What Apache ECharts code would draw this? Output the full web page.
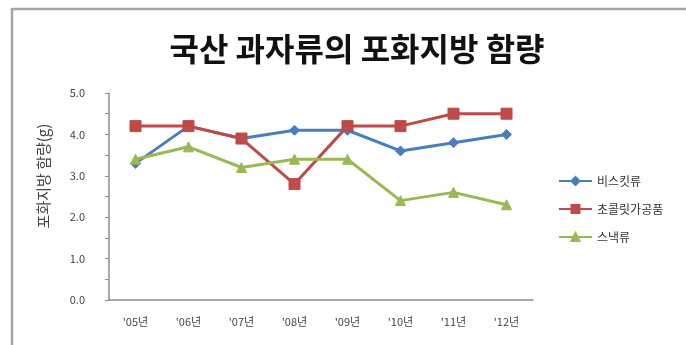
<!DOCTYPE html>
<html>
<head>
<meta charset="utf-8">
<script src="https://cdn.jsdelivr.net/npm/echarts@6/dist/echarts.min.js"></script>
<style>
  html, body { margin: 0; padding: 0; background: #fff; }
  #chart { width: 686px; height: 345px; }
</style>
</head>
<body>
<div id="chart"></div>
<script>
// Years on the category axis
const years = ["'05년", "'06년", "'07년", "'08년", "'09년", "'10년", "'11년", "'12년"];
// Saturated fat content (g) per product group
const biscuits = [3.3, 4.2, 3.9, 4.1, 4.1, 3.6, 3.8, 4.0];
const chocolate = [4.2, 4.2, 3.9, 2.8, 4.2, 4.2, 4.5, 4.5];
const snacks = [3.4, 3.7, 3.2, 3.4, 3.4, 2.4, 2.6, 2.3];
const seriesNames = ['비스킷류', '초콜릿가공품', '스낵류'];
const yAxisTitle = '포화지방 함량(g)';

const FONT = '"Noto Sans CJK KR", "Noto Sans", sans-serif';
const chart = echarts.init(document.getElementById('chart'));

function lineSeries(name, data, color, symbol, size) {
  return {
    name: name,
    type: 'line',
    data: data,
    symbol: symbol,
    symbolSize: size,
    showSymbol: true,
    lineStyle: { color: color, width: 3 },
    itemStyle: { color: color, borderColor: color, borderWidth: 1 },
    emphasis: { disabled: true }
  };
}

chart.setOption({
  animation: false,
  backgroundColor: '#ffffff',
  textStyle: { fontFamily: FONT },
  graphic: [
    {
      // frame around the chart area
      type: 'rect',
      shape: { x: 12, y: 9, width: 720, height: 400 },
      style: { fill: 'none', stroke: '#a6a6a6', lineWidth: 2.5 }
    },
    {
      // vertical value-axis title
      type: 'text',
      x: 43,
      y: 176,
      rotation: Math.PI / 2,
      style: {
        text: yAxisTitle,
        fontFamily: FONT,
        fontSize: 15,
        fill: '#444',
        align: 'center',
        verticalAlign: 'middle'
      }
    }
  ],
  title: {
    text: '국산 과자류의 포화지방 함량',
    left: 352,
    textAlign: 'center',
    top: 28,
    textStyle: { fontFamily: FONT, fontSize: 32, fontWeight: 'bold', color: '#111' }
  },
  legend: {
    orient: 'vertical',
    left: 553,
    top: 170,
    itemGap: 16,
    itemWidth: 33,
    itemHeight: 10,
    data: seriesNames,
    textStyle: { fontFamily: FONT, fontSize: 12, color: '#333' }
  },
  grid: { left: 109, right: 153, top: 93, bottom: 45, containLabel: false },
  xAxis: {
    type: 'category',
    data: years,
    boundaryGap: true,
    axisLine: { lineStyle: { color: '#8c8c8c', width: 1.5 } },
    axisTick: { show: false },
    axisLabel: { fontFamily: FONT, fontSize: 11, color: '#444', margin: 16 }
  },
  yAxis: {
    type: 'value',
    min: 0,
    max: 5,
    interval: 1,
    axisLine: { show: true, lineStyle: { color: '#8c8c8c', width: 1.5 } },
    axisTick: { show: true, length: 4, lineStyle: { color: '#8c8c8c' } },
    minorTick: { show: true, splitNumber: 2, length: 4, lineStyle: { color: '#8c8c8c' } },
    splitLine: { show: false },
    axisLabel: {
      fontFamily: FONT, fontSize: 11, color: '#444', margin: 24,
      formatter: v => v.toFixed(1)
    }
  },
  series: [
    lineSeries(seriesNames[0], biscuits, '#4a7ebb', 'diamond', 10),
    lineSeries(seriesNames[1], chocolate, '#be4b48', 'rect', 11),
    lineSeries(seriesNames[2], snacks, '#98b954', 'triangle', 10)
  ]
});
</script>
</body>
</html>
